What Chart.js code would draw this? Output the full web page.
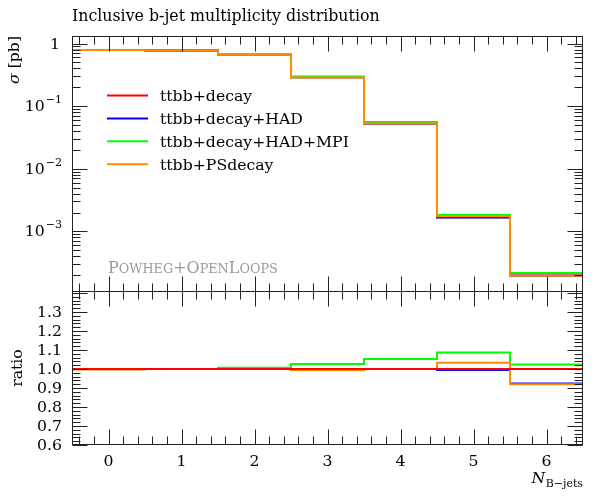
<!DOCTYPE html>
<html>
<head>
<meta charset="utf-8">
<script src="https://cdn.jsdelivr.net/npm/chart.js@4.4.0/dist/chart.umd.min.js"></script>
<style>
html, body { margin: 0; padding: 0; background: #fff; }
#wrap { position: relative; width: 598px; height: 496px; }
#wrap canvas { position: absolute; left: 0; top: 0; }
</style>
</head>
<body>
<div id="wrap">
<canvas id="main" width="598" height="496"></canvas>
<canvas id="ratio" width="598" height="496"></canvas>
</div>
<script>
// bins of the b-jet multiplicity
const binEdges = [-0.5, 0.5, 1.5, 2.5, 3.5, 4.5, 5.5, 6.5];
const xTickLabels = ['0', '1', '2', '3', '4', '5', '6'];

const seriesNames = ['ttbb+decay', 'ttbb+decay+HAD', 'ttbb+decay+HAD+MPI', 'ttbb+PSdecay'];
const seriesColours = ['#ff0000', '#0000ff', '#00ff00', '#ff8c00'];

// cross sections [pb]
const xsDecay = [0.790, 0.775, 0.660, 0.289, 0.0530, 0.00168, 0.000212];
const xsHad   = [0.790, 0.775, 0.660, 0.289, 0.0530, 0.00167, 0.000196];
const xsMpi   = [0.790, 0.775, 0.664, 0.297, 0.0558, 0.00182, 0.000217];
const xsPs    = [0.788, 0.775, 0.660, 0.287, 0.0530, 0.00174, 0.000195];

// ratios to ttbb+decay
const ratioDecay = [1.000, 1.000, 1.000, 1.000, 1.000, 1.000, 1.000];
const ratioHad   = [1.000, 1.000, 1.000, 1.000, 1.000, 0.995, 0.924];
const ratioMpi   = [1.000, 1.000, 1.006, 1.026, 1.052, 1.086, 1.024];
const ratioPs    = [0.997, 1.000, 1.000, 0.993, 1.000, 1.033, 0.920];

const logTickLabels = [[1, '1', ''], [0.1, '10', '\u22121'], [0.01, '10', '\u22122'], [0.001, '10', '\u22123']];
const ratioTickLabels = ['0.6', '0.7', '0.8', '0.9', '1.0', '1.1', '1.2', '1.3'];

const FONT = '"DejaVu Serif", serif';
const INK = '#222';

// histogram -> step points (left edges + closing edge)
function steps(values) {
    return binEdges.map((x, i) => ({ x: x, y: values[Math.min(i, values.length - 1)] }));
}

function datasets(list, order) {
    return list.map((vals, i) => ({
        label: seriesNames[i],
        data: steps(vals),
        borderColor: seriesColours[i],
        borderWidth: 2,
        stepped: true,
        fill: false,
        pointRadius: 0,
        order: order[i]
    }));
}

function text(ctx, s, x, y, size, align, style) {
    ctx.font = (style || '') + ' ' + size + 'px ' + FONT;
    ctx.textAlign = align || 'left';
    ctx.fillText(s, x, y);
    return ctx.measureText(s).width;
}

// frame with inward ticks on all four sides
function drawFrame(chart, yTicks) {
    const { ctx, chartArea: a, scales: { x, y } } = chart;
    ctx.save();
    ctx.strokeStyle = INK;
    ctx.lineWidth = 1;
    const L = a.left + 0.5, R = a.right - 0.5, T = a.top + 0.5, B = a.bottom - 0.5;
    ctx.strokeRect(L, T, R - L, B - T);
    ctx.beginPath();
    for (let k = -2; k <= 32; k++) {
        const v = k / 5;
        const px = Math.round(x.getPixelForValue(v)) + 0.5;
        const len = k % 5 === 0 ? 15 : 8;
        ctx.moveTo(px, B); ctx.lineTo(px, B - len);
        ctx.moveTo(px, T); ctx.lineTo(px, T + len);
    }
    yTicks.forEach(t => {
        const py = Math.round(y.getPixelForValue(t.v)) + 0.5;
        if (py < T - 1 || py > B + 1) return;
        const len = t.major ? 15 : 8;
        ctx.moveTo(L, py); ctx.lineTo(L + len, py);
        ctx.moveTo(R, py); ctx.lineTo(R - len, py);
    });
    ctx.stroke();
    ctx.restore();
}

const logTicks = [];
for (let d = -4; d <= 0; d++) {
    for (let k = 1; k <= 9; k++) logTicks.push({ v: k * Math.pow(10, d), major: k === 1 });
}
const ratioTicks = [];
for (let k = 30; k <= 70; k++) ratioTicks.push({ v: k / 50, major: k % 5 === 0 });

function baseOptions(padding, yScale) {
    return {
        responsive: false,
        animation: false,
        events: [],
        layout: { padding: padding },
        plugins: { legend: { display: false }, tooltip: { enabled: false } },
        scales: {
            x: { type: 'linear', min: -0.5, max: 6.5, display: false },
            y: yScale
        }
    };
}

/**
 * Main panel
 */
new Chart(document.getElementById('main'), {
    type: 'line',
    data: { datasets: datasets([xsDecay, xsHad, xsMpi, xsPs], [3, 2, 1, 0]) },
    options: baseOptions({ left: 72, right: 15, top: 36, bottom: 204 },
        { type: 'logarithmic', min: 1.076e-4, max: 1.318, display: false }),
    plugins: [{
        id: 'mainDecor',
        afterDatasetsDraw(chart) {
            drawFrame(chart, logTicks);
            const { ctx, scales: { y } } = chart;
            ctx.save();
            ctx.fillStyle = '#000';
            // title
            text(ctx, 'Inclusive b-jet multiplicity distribution', 72, 21, 15.8);
            // y tick labels
            logTickLabels.forEach(([v, base, exp]) => {
                const py = y.getPixelForValue(v);
                if (exp) {
                    ctx.font = '11px ' + FONT;
                    const w = ctx.measureText(exp).width;
                    text(ctx, exp, 62, py - 3, 11, 'right');
                    text(ctx, base, 62 - w - 1, py + 5, 15.7, 'right');
                } else {
                    text(ctx, base, 60, py + 5, 15.7, 'right');
                }
            });
            // y axis title
            ctx.save();
            ctx.translate(19, 36);
            ctx.rotate(-Math.PI / 2);
            ctx.font = '15.7px ' + FONT;
            const wPb = ctx.measureText(' [pb]').width;
            text(ctx, ' [pb]', 0, 0, 15.7, 'right');
            text(ctx, '\u03c3', -wPb, 0, 15.7, 'right', 'italic');
            ctx.restore();
            // legend
            chart.data.datasets.forEach((ds, i) => {
                const ly = 95.5 + i * 22.9;
                ctx.strokeStyle = ds.borderColor;
                ctx.lineWidth = 2;
                ctx.beginPath();
                ctx.moveTo(107, ly); ctx.lineTo(148, ly);
                ctx.stroke();
                text(ctx, ds.label, 160, ly + 5.5, 15.7);
            });
            // generator tag in small caps
            ctx.fillStyle = '#9a9a9a';
            let gx = 108;
            [['P', 16], ['OWHEG', 12.8], ['+O', 16], ['PEN', 12.8], ['L', 16], ['OOPS', 12.8]].forEach(([s, sz]) => {
                gx += text(ctx, s, gx, 273, sz);
            });
            ctx.restore();
        }
    }]
});

/**
 * Ratio panel
 */
new Chart(document.getElementById('ratio'), {
    type: 'line',
    data: { datasets: datasets([ratioDecay, ratioHad, ratioMpi, ratioPs], [0, 3, 2, 1]) },
    options: baseOptions({ left: 72, right: 15, top: 291, bottom: 51 },
        { type: 'linear', min: 0.6, max: 1.41, display: false }),
    plugins: [{
        id: 'ratioDecor',
        afterDatasetsDraw(chart) {
            drawFrame(chart, ratioTicks);
            const { ctx, scales: { x, y } } = chart;
            ctx.save();
            ctx.fillStyle = '#000';
            ratioTickLabels.forEach(s => {
                text(ctx, s, 62, y.getPixelForValue(parseFloat(s)) + 5, 15.7, 'right');
            });
            xTickLabels.forEach(s => {
                text(ctx, s, x.getPixelForValue(parseFloat(s)), 466, 15.7, 'center');
            });
            // axis titles
            ctx.save();
            ctx.translate(21.5, 368);
            ctx.rotate(-Math.PI / 2);
            text(ctx, 'ratio', 0, 0, 15.7, 'center');
            ctx.restore();
            ctx.font = '11px ' + FONT;
            const wSub = ctx.measureText('B\u2212jets').width;
            text(ctx, 'B\u2212jets', 583, 487, 11, 'right');
            text(ctx, 'N', 583 - wSub - 0.5, 483, 15.7, 'right', 'italic');
            ctx.restore();
        }
    }]
});
</script>
</body>
</html>
